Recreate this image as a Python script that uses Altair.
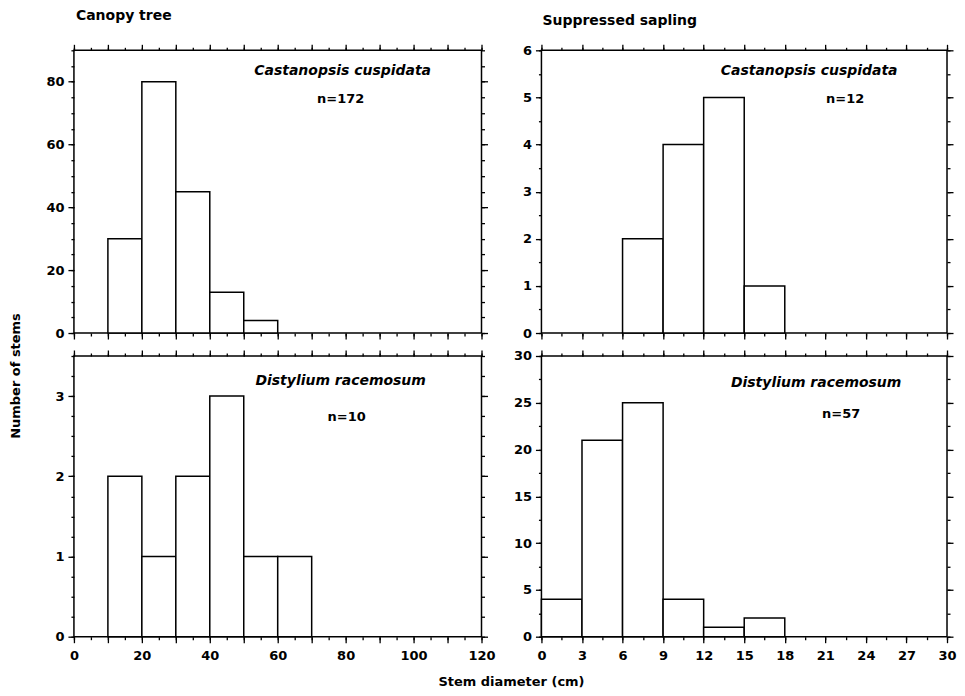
import altair as alt
import pandas as pd
import numpy as np

# ---- data ----
tl_start = [10, 20, 30, 40, 50]
tl_count = [30, 80, 45, 13, 4]
tr_start = [6, 9, 12, 15]
tr_count = [2, 4, 5, 1]
bl_start = [10, 20, 30, 40, 50, 60]
bl_count = [2, 1, 2, 3, 1, 1]
br_start = [0, 3, 6, 9, 12, 15]
br_count = [4, 21, 25, 4, 1, 2]

species = ["Castanopsis cuspidata", "Distylium racemosum"]
n_labels = ["n=172", "n=12", "n=10", "n=57"]
col_titles = ["Canopy tree", "Suppressed sapling"]
x_title = "Stem diameter (cm)"
y_title = "Number of stems"

FONT = "DejaVu Sans"


def ax(orient, values, labels, size, label_step=None, fmt=None, pad=4):
    kw = dict(orient=orient, values=list(values), labels=labels, ticks=True,
              tickSize=size, tickWidth=1.3, tickColor="black", domain=False,
              grid=False, title=None, labelFont=FONT, labelFontWeight="bold",
              labelFontSize=13, labelColor="black", labelPadding=pad,
              labelFlush=False, labelOverlap=False)
    if label_step is not None:
        kw["labelExpr"] = f"abs(datum.value % {label_step}) < 1e-9 ? datum.label : ''"
    if fmt is not None:
        kw["format"] = fmt
    return alt.Axis(**kw)


def txt(s, x, y, italic=False, size=14, align="center", angle=0):
    return alt.Chart(pd.DataFrame({"t": [s]})).mark_text(
        font=FONT, fontWeight="bold", fontStyle="italic" if italic else "normal",
        fontSize=size, align=align, baseline="middle", angle=angle, color="black"
    ).encode(x=alt.value(x), y=alt.value(y), text="t:N")


def panel(starts, counts, binw, xmax, xmaj, xmin, xlab_step, ymax, ymaj, ymin,
          show_xlabels, w, h, texts):
    df = pd.DataFrame({"lo": starts, "count": counts})
    df["hi"] = df["lo"] + binw
    df["base"] = 0
    xs = alt.Scale(domain=[0, xmax], nice=False, zero=False)
    ys = alt.Scale(domain=[0, ymax], nice=False, zero=False)
    base = alt.Chart(df)
    bars = base.mark_rect(fill="white", stroke="black", strokeWidth=1.5).encode(
        x=alt.X("lo:Q", scale=xs,
                axis=ax("bottom", xmaj, show_xlabels, 6, xlab_step, "d", pad=7)),
        x2="hi:Q",
        y=alt.Y("count:Q", scale=ys, axis=ax("left", ymaj, True, 6, None, "d", pad=4)),
        y2="base:Q",
    )
    l2 = base.mark_point(opacity=0).encode(
        x=alt.X("lo:Q", scale=xs, axis=ax("top", xmaj, False, 6)),
        y=alt.Y("count:Q", scale=ys, axis=ax("right", ymaj, False, 6)),
    )
    l3 = base.mark_point(opacity=0).encode(
        x=alt.X("lo:Q", scale=xs, axis=ax("bottom", xmin, False, 3)),
        y=alt.Y("count:Q", scale=ys, axis=ax("left", ymin, False, 3)),
    )
    l4 = base.mark_point(opacity=0).encode(
        x=alt.X("lo:Q", scale=xs, axis=ax("top", xmin, False, 3)),
        y=alt.Y("count:Q", scale=ys, axis=ax("right", ymin, False, 3)),
    )
    return alt.layer(bars, l2, l3, l4, *texts).resolve_axis(
        x="independent", y="independent").properties(width=w, height=h)


LW, RW = 408, 406
TH, BH = 283, 281

tl = panel(tl_start, tl_count, 10, 120, np.arange(0, 121, 10), np.arange(0, 121, 5), 20,
           90, [0, 20, 40, 60, 80], np.arange(0, 91, 5), False, LW, TH,
           [txt(species[0], 269, 21, italic=True), txt(n_labels[0], 267, 49, size=13),
            txt(col_titles[0], 2, -34, align="left")])

tr = panel(tr_start, tr_count, 3, 30, np.arange(0, 31, 3), np.arange(0, 30.1, 1.5), 3,
           6, [0, 1, 2, 3, 4, 5, 6], np.arange(0, 6.01, 0.5), False, RW, TH,
           [txt(species[0], 268, 21, italic=True), txt(n_labels[1], 304, 49, size=13),
            txt(col_titles[1], 1, -29, align="left")])

bl = panel(bl_start, bl_count, 10, 120, np.arange(0, 121, 10), np.arange(0, 121, 5), 20,
           3.5, [0, 1, 2, 3], np.arange(0, 3.51, 0.25), True, LW, BH,
           [txt(species[1], 267, 25, italic=True), txt(n_labels[2], 273, 61, size=13),
            txt(y_title, -58, 20, size=13, angle=270),
            txt(x_title, 438, 326, size=13)])

br = panel(br_start, br_count, 3, 30, np.arange(0, 31, 3), np.arange(0, 30.1, 1.5), 3,
           30, [0, 5, 10, 15, 20, 25, 30], np.arange(0, 30.1, 2.5), True, RW, BH,
           [txt(species[1], 275, 27, italic=True), txt(n_labels[3], 300, 58, size=13)])

chart = alt.concat(tl, tr, bl, br, columns=2, spacing={"row": 23, "column": 60},
                   bounds="flush").properties(
    padding={"left": 1, "top": 0, "right": 0, "bottom": 0}, background="white"
).configure_view(stroke="black", strokeWidth=1.5)

chart.save("out.html", embed_options={"renderer": "svg", "actions": False})
